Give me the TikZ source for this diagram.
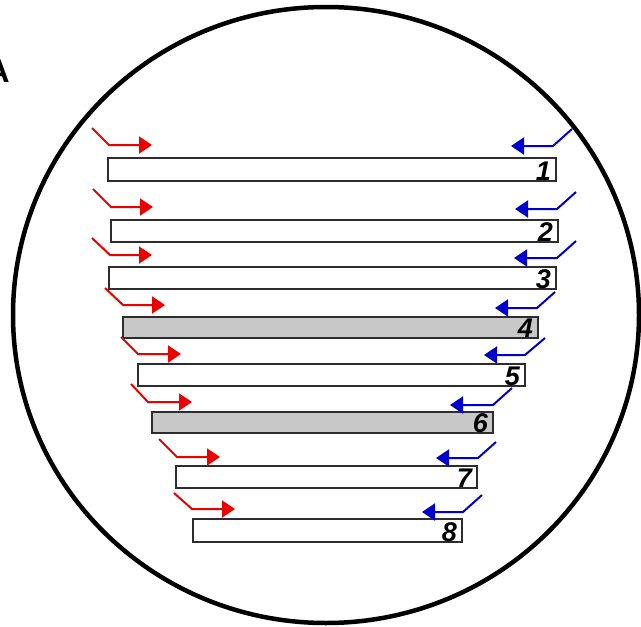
\documentclass[tikz,border=0pt]{standalone}
\usepackage{fontspec}
\setmainfont{Liberation Sans}
\usetikzlibrary{arrows.meta,shapes.geometric,calc}
\definecolor{arrred}{RGB}{235,0,0}
\definecolor{arrblue}{RGB}{0,0,205}
\definecolor{barfill}{RGB}{200,200,200}
\definecolor{barline}{RGB}{45,45,45}
\tikzset{
  bar/.style={draw=barline, line width=2pt, inner sep=0pt, outer sep=0pt},
  barnum/.style={inner sep=0pt, font=\fontsize{27}{27}\selectfont\bfseries\itshape, anchor=base east},
  redarrow/.style={draw=arrred, line width=2pt, -{Triangle[length=13pt,width=17pt]}},
  bluearrow/.style={draw=arrblue, line width=2pt, -{Triangle[length=13pt,width=17pt]}},
  rim/.style={draw=black, line width=4.5pt}
}
\begin{document}
\begin{tikzpicture}[x=1pt,y=-1pt]
\useasboundingbox (0,0) rectangle (641,627);
\node[rim, ellipse, minimum width=626pt, minimum height=616pt, inner sep=0pt] (dish) at (326,315) {};
\node[inner sep=0pt, anchor=base east, font=\fontsize{33}{33}\selectfont\bfseries] (lblA) at (10,82) {A};
% bars: index / left / top / right / bottom / fill
\foreach \i/\l/\t/\r/\b/\f in {1/108/158/556/181/white, 2/111/220/558/242/white, 3/109/267/556/289/white, 4/123/317/538/338/barfill, 5/138/364/525/386/white, 6/152/412/493/433/barfill, 7/176/466/477/488/white, 8/193/519/462/542/white} {
  \node[bar, fill=\f, minimum width={(\r-\l)*1pt}, minimum height={(\b-\t)*1pt}] (r\i) at ({(\l+\r)/2},{(\t+\b)/2}) {};
  \node[barnum] (n\i) at ($(r\i.south east)+(-5,-1)$) {\i};
}
% red arrows: index / start x / start y / kink x / kink y / tip x
\foreach \i/\sx/\sy/\kx/\ky/\tx in {1/92/128/109/145/152, 2/93/189/111/207/153, 3/92/238/110/255/152, 4/105/288/123/305/165, 5/121/337/138/354/181, 6/131/384/148/402/192, 7/159/439/177/457/220, 8/174/493/192/509/235} {
  \coordinate (rs\i) at (\sx,\sy);
  \coordinate (rk\i) at (\kx,\ky);
  \coordinate (rt\i) at (\tx,\ky);
  \draw[redarrow] (rs\i) -- (rk\i) -- (rt\i);
}
% blue arrows
\foreach \i/\sx/\sy/\kx/\ky/\tx in {1/572/129/553/146/511, 2/576/192/557/209/515, 3/576/241/557/258/514, 4/555/292/537/308/495, 5/545/338/525/355/484, 6/512/388/493/405/450, 7/496/442/478/458/436, 8/482/495/463/512/422} {
  \coordinate (bs\i) at (\sx,\sy);
  \coordinate (bk\i) at (\kx,\ky);
  \coordinate (bt\i) at (\tx,\ky);
  \draw[bluearrow] (bs\i) -- (bk\i) -- (bt\i);
}
\end{tikzpicture}
\end{document}
